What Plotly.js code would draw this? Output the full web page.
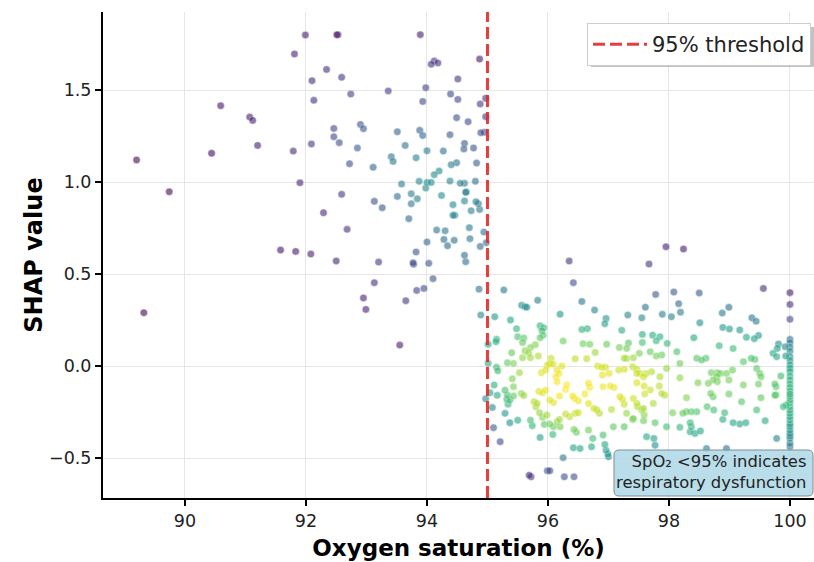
<!DOCTYPE html>
<html>
<head>
<meta charset="utf-8">
<script src="https://cdn.plot.ly/plotly-3.0.1.min.js"></script>
<style>html,body{margin:0;padding:0;background:#fff;}#chart{width:814px;height:562px;}</style>
</head>
<body>
<div id="chart"></div>
<script>
// Oxygen saturation (%) of each sample
const spo2 = [
  91.81, 90.59, 91.07, 91.12, 91.20, 90.44, 91.79, 89.20, 89.74, 91.90, 91.58, 91.83, 89.32,
  91.99, 92.51, 92.53, 93.89, 92.34, 92.10, 92.59, 92.74, 92.13, 93.36, 94.07, 94.12, 94.18,
  93.98, 93.93, 94.51, 94.87, 94.39, 94.51, 94.88, 94.97, 94.49, 94.68, 94.97, 94.89, 94.95,
  94.38, 92.46, 92.46, 92.55, 92.09, 92.90, 92.95, 92.85, 92.72, 93.11, 93.51, 93.64, 93.88,
  93.93, 93.41, 93.44, 93.82, 94.00, 94.27, 94.62, 94.61, 94.77, 94.82, 94.40, 94.49, 94.12,
  94.20, 93.58, 93.87, 94.00, 94.07, 94.38, 94.55, 94.62, 94.80, 93.98, 92.59, 93.13, 93.26,
  92.29, 93.51, 93.74, 93.84, 93.74, 93.70, 94.24, 94.43, 94.43, 94.46, 94.64, 94.65, 94.62,
  94.81, 94.85, 94.73, 94.87, 92.68, 94.16, 94.30, 94.70, 94.94, 94.00, 94.28, 94.34, 94.45,
  94.71, 94.88, 94.98, 92.08, 92.50, 93.20, 93.82, 93.77, 93.78, 94.03, 94.62, 94.64, 94.10,
  93.13, 93.95, 93.83, 92.95, 92.99, 93.65, 94.86, 94.89, 93.55, 94.97,
  95.12, 95.01, 95.15, 95.14, 95.01, 95.15, 95.17, 95.11, 95.04, 95.16, 95.08, 95.10, 95.21,
  96.35, 97.67, 96.42, 95.27, 95.83, 95.565, 95.62, 95.65, 96.56, 96.77, 96.20, 96.96, 96.94,
  97.32, 97.61, 95.38, 95.87, 95.93, 95.90, 95.48, 96.56, 96.65, 97.22, 97.56, 95.50, 95.60,
  95.58, 95.92, 95.87, 96.25, 96.58, 96.69, 96.97, 97.18, 97.33, 97.30, 97.56, 95.71, 95.79,
  95.62, 95.68, 95.40, 95.58, 95.71, 95.84, 96.78, 96.45, 96.64, 97.26, 97.30, 97.41, 97.51,
  96.05, 96.03, 96.08, 95.99, 96.23, 95.33, 95.43, 95.53, 95.41, 96.15, 96.18, 96.13, 95.89,
  95.96, 96.82, 96.89, 96.95, 97.01, 96.90, 97.17, 97.26, 97.40, 97.47, 97.47, 97.52, 97.47,
  97.59, 97.58, 96.15, 96.31, 96.29, 96.67, 96.69, 96.61, 96.91, 97.03, 97.09, 95.29, 95.33,
  95.32, 95.37, 95.34, 95.43, 95.43, 95.56, 95.60, 95.85, 95.91, 95.96, 96.19, 96.03, 96.09,
  95.77, 95.82, 95.80, 96.41, 96.44, 96.50, 96.67, 96.81, 96.85, 96.76, 97.05, 97.19, 97.23,
  97.26, 97.41, 97.48, 97.55, 97.58, 97.30, 97.41, 95.86, 95.91, 95.98, 95.29, 95.37, 95.50,
  95.71, 95.74, 95.94, 96.03, 96.15, 96.19, 96.29, 96.36, 96.45, 96.50, 96.09, 96.20, 96.47,
  96.43, 96.67, 96.74, 96.91, 97.08, 97.26, 97.40, 97.63, 95.87, 96.08, 96.42, 96.53, 96.72,
  96.94, 96.96, 96.99, 97.00, 96.25, 95.69, 95.72, 95.99, 96.03, 96.27, 96.43,
  97.95, 98.24, 99.56, 100.0, 100.0, 100.0, 97.78, 98.08, 98.50, 98.16, 97.89, 98.04, 98.19,
  98.88, 98.99, 99.37, 99.44, 98.51, 97.55, 98.89, 99.00, 99.17, 99.28, 99.41, 99.48, 97.73,
  97.85, 98.41, 97.79, 97.97, 98.83, 99.06, 99.81, 99.79, 99.92, 99.72, 99.78, 99.93, 97.69,
  98.13, 97.79, 97.88, 98.46, 98.54, 98.61, 99.23, 99.36, 99.42, 98.18, 97.96, 97.62, 97.71,
  97.85, 98.70, 98.80, 98.85, 98.79, 98.95, 99.05, 99.45, 99.50, 99.52, 98.18, 98.65, 98.73,
  98.80, 98.48, 98.99, 99.23, 99.75, 99.85, 99.48, 97.69, 97.84, 97.60, 97.88, 97.93, 98.69,
  98.73, 98.99, 97.47, 99.52, 99.75, 98.29, 99.20, 97.59, 97.74, 98.63, 98.74, 98.06, 98.23,
  98.29, 98.37, 98.46, 98.92, 99.45, 99.94, 97.58, 97.77, 97.96, 98.18, 98.35, 98.37, 98.35,
  98.43, 98.52, 98.89, 99.06, 99.17, 99.27, 99.59, 97.75, 97.77, 99.78, 98.62, 98.95, 99.89,
  99.77, 99.77,
  100.0, 100.0, 100.0, 100.0, 100.0, 100.0, 100.0, 100.0, 100.0, 100.0, 100.0, 100.0, 100.0,
  100.0, 100.0, 100.0, 100.0, 100.0, 100.0, 100.0, 100.0, 100.0, 100.0, 100.0, 100.0, 100.0,
  100.0, 100.0, 100.0, 100.0, 100.0
];
// SHAP value of each sample (same order as spo2)
const shap = [
  1.696, 1.415, 1.353, 1.335, 1.199, 1.156, 1.168, 1.120, 0.947, 0.996, 0.630, 0.623, 0.290,
  1.799, 1.800, 1.800, 1.801, 1.612, 1.551, 1.569, 1.478, 1.444, 1.495, 1.640, 1.658, 1.647,
  1.513, 1.438, 1.560, 1.668, 1.478, 1.449, 1.424, 1.455, 1.350, 1.328, 1.355, 1.268, 1.270,
  1.257, 1.291, 1.246, 1.214, 1.207, 1.313, 1.290, 1.185, 1.099, 1.080, 1.273, 1.199, 1.281,
  1.253, 1.138, 1.112, 1.132, 1.170, 1.168, 1.210, 1.179, 1.185, 1.103, 1.094, 1.105, 1.040,
  1.060, 0.989, 1.004, 0.998, 0.998, 1.005, 0.993, 0.993, 1.004, 0.967, 0.933, 0.895, 0.860,
  0.833, 0.922, 0.936, 0.909, 0.882, 0.801, 0.927, 0.877, 0.819, 0.819, 0.944, 0.946, 0.897,
  0.893, 0.882, 0.844, 0.851, 0.743, 0.739, 0.735, 0.752, 0.728, 0.674, 0.688, 0.654, 0.683,
  0.692, 0.650, 0.670, 0.609, 0.571, 0.565, 0.620, 0.561, 0.553, 0.558, 0.602, 0.567, 0.475,
  0.453, 0.422, 0.411, 0.370, 0.308, 0.355, 0.418, 0.277, 0.114, -0.178,
  0.268, 0.118, 0.145, 0.132, 0.015, -0.007, -0.026, -0.103, -0.145, -0.159, -0.225, -0.335, -0.411,
  0.571, 0.554, 0.453, 0.413, 0.357, 0.330, 0.322, 0.320, 0.351, 0.304, 0.282, 0.259, 0.230,
  0.277, 0.320, 0.250, 0.219, 0.208, 0.192, 0.203, 0.199, 0.203, 0.194, 0.172, 0.159, 0.152,
  0.128, 0.168, 0.154, 0.136, 0.121, 0.118, 0.119, 0.101, 0.125, 0.096, 0.128, 0.101, 0.116,
  0.083, 0.072, 0.072, 0.045, 0.045, 0.054, 0.074, 0.040, 0.040, 0.043, 0.041, 0.045, 0.069,
  0.042, 0.014, 0.011, 0.005, 0.000, 0.018, 0.014, -0.036, -0.069, -0.022, -0.040, -0.058, -0.036,
  -0.022, 0.000, -0.007, -0.007, -0.040, -0.049, -0.022, -0.018, -0.004, -0.018, -0.040, -0.040, -0.091,
  -0.109, -0.058, -0.085, -0.103, -0.127, -0.094, -0.116, -0.152, -0.112, -0.109, -0.116, -0.131, -0.158,
  -0.181, -0.185, -0.207, -0.112, -0.163, -0.149, -0.160, -0.138, -0.145, -0.131, -0.163, -0.185, -0.198,
  -0.194, -0.203, -0.221, -0.163, -0.176, -0.189, -0.203, -0.239, -0.257, -0.230, -0.236, -0.167, -0.181,
  -0.207, -0.176, -0.221, -0.239, -0.230, -0.257, -0.285, -0.254, -0.279, -0.266, -0.257, -0.308, -0.294,
  -0.294, -0.324, -0.317, -0.315, -0.303, -0.290, -0.261, -0.275, -0.257, -0.254, -0.330, -0.330, -0.360,
  -0.345, -0.348, -0.393, -0.375, -0.330, -0.330, -0.290, -0.384, -0.388, -0.372, -0.444, -0.448, -0.439,
  -0.426, -0.457, -0.478, -0.493, -0.498, -0.593, -0.602, -0.569, -0.569, -0.602, -0.602,
  0.648, 0.636, 0.422, 0.399, 0.335, 0.254, 0.389, 0.402, 0.397, 0.339, 0.281, 0.268, 0.293,
  0.288, 0.319, 0.262, 0.244, 0.235, 0.262, 0.210, 0.201, 0.196, 0.156, 0.149, 0.166, 0.168,
  0.159, 0.154, 0.137, 0.123, 0.110, 0.095, 0.120, 0.095, 0.105, 0.069, 0.051, 0.054, 0.078,
  0.078, 0.054, 0.060, 0.042, 0.033, 0.042, 0.024, 0.042, 0.036, 0.014, -0.013, -0.041, -0.031,
  -0.058, -0.036, -0.036, -0.040, -0.058, -0.040, -0.022, -0.013, -0.040, -0.058, -0.064, -0.094, -0.076,
  -0.085, -0.091, -0.076, -0.103, -0.098, -0.054, -0.098, -0.130, -0.109, -0.152, -0.149, -0.158, -0.149,
  -0.167, -0.152, -0.203, -0.172, -0.158, -0.172, -0.194, -0.266, -0.203, -0.221, -0.239, -0.254, -0.257,
  -0.248, -0.248, -0.248, -0.254, -0.239, -0.212, -0.297, -0.308, -0.330, -0.333, -0.308, -0.330, -0.357,
  -0.366, -0.353, -0.290, -0.308, -0.315, -0.308, -0.297, -0.393, -0.430, -0.393, -0.448, -0.448, -0.221,
  -0.112, -0.157,
  0.145, 0.127, 0.102, 0.080, 0.051, 0.030, 0.006, -0.012, -0.030, -0.054, -0.076, -0.098, -0.116,
  -0.135, -0.152, -0.166, -0.185, -0.200, -0.221, -0.240, -0.257, -0.275, -0.293, -0.315, -0.329, -0.348,
  -0.366, -0.380, -0.393, -0.420, -0.438
];
const thresholdValue = 95;
const xTickVals = [90, 92, 94, 96, 98, 100];
const yTickVals = [-0.5, 0.0, 0.5, 1.0, 1.5];
const yTickText = ['\u22120.5', '0.0', '0.5', '1.0', '1.5'];

// point density (gaussian KDE, Scott's rule, full covariance) used for colour
function gaussianKde(xs, ys) {
  const n = xs.length;
  let mx = 0, my = 0;
  for (let i = 0; i < n; i++) { mx += xs[i]; my += ys[i]; }
  mx /= n; my /= n;
  let sxx = 0, syy = 0, sxy = 0;
  for (let i = 0; i < n; i++) {
    const dx = xs[i] - mx, dy = ys[i] - my;
    sxx += dx * dx; syy += dy * dy; sxy += dx * dy;
  }
  sxx /= (n - 1); syy /= (n - 1); sxy /= (n - 1);
  const f2 = Math.pow(n, -1 / 3);
  const a = sxx * f2, b = sxy * f2, d = syy * f2;
  const det = a * d - b * b;
  const ia = d / det, ib = -b / det, id = a / det;
  const out = [];
  for (let i = 0; i < n; i++) {
    let s = 0;
    for (let j = 0; j < n; j++) {
      const dx = xs[i] - xs[j], dy = ys[i] - ys[j];
      s += Math.exp(-0.5 * (ia * dx * dx + 2 * ib * dx * dy + id * dy * dy));
    }
    out.push(s / (n * 2 * Math.PI * Math.sqrt(det)));
  }
  return out;
}
const dens = gaussianKde(spo2, shap);
const order = dens.map((v, i) => i).sort((p, q) => dens[p] - dens[q]);
const xs = order.map(i => spo2[i]);
const ys = order.map(i => shap[i]);
const cs = order.map(i => dens[i]);

const W = 814, H = 562, ML = 103, MR = 0, MT = 12, MB = 64;
const PW = W - ML - MR, PH = H - MT - MB;
const px = v => (v - ML) / PW;          // pixel -> paper x
const py = v => (H - MB - v) / PH;      // pixel -> paper y

function roundRect(x0, y0, x1, y1, r) {
  const X0 = px(x0), X1 = px(x1), Y0 = py(y1), Y1 = py(y0);
  const rx = r / PW, ry = r / PH;
  return `M${X0 + rx},${Y0} L${X1 - rx},${Y0} Q${X1},${Y0} ${X1},${Y0 + ry} L${X1},${Y1 - ry} Q${X1},${Y1} ${X1 - rx},${Y1} L${X0 + rx},${Y1} Q${X0},${Y1} ${X0},${Y1 - ry} L${X0},${Y0 + ry} Q${X0},${Y0} ${X0 + rx},${Y0} Z`;
}

const font = 'DejaVu Sans, sans-serif';
const trace = {
  type: 'scatter', mode: 'markers', x: xs, y: ys, showlegend: false, hoverinfo: 'skip',
  marker: { size: 7.5, color: cs, colorscale: 'Viridis', opacity: 0.6,
            line: { color: 'white', width: 0.5 } }
};

const layout = {
  width: W, height: H,
  margin: { l: ML, r: MR, t: MT, b: MB },
  paper_bgcolor: 'white', plot_bgcolor: 'white',
  font: { family: font, color: '#222' },
  xaxis: {
    range: [88.645, 100.397], tickvals: xTickVals, ticktext: xTickVals.map(String),
    showgrid: true, gridcolor: '#e6e6e6', gridwidth: 1, zeroline: false,
    showline: true, linecolor: 'black', linewidth: 2,
    ticks: 'outside', ticklen: 6, tickwidth: 1.5, tickcolor: 'black',
    tickfont: { family: font, size: 17.5, color: '#222' },
    title: { text: 'Oxygen saturation (%)', font: { family: font, size: 23, color: 'black', weight: 'bold' }, standoff: 10 }
  },
  yaxis: {
    range: [-0.717, 1.924], tickvals: yTickVals, ticktext: yTickText,
    showgrid: true, gridcolor: '#e6e6e6', gridwidth: 1, zeroline: false,
    showline: true, linecolor: 'black', linewidth: 2,
    ticks: 'outside', ticklen: 6, tickwidth: 1.5, tickcolor: 'black',
    tickfont: { family: font, size: 17.5, color: '#222' },
    title: { text: 'SHAP value', font: { family: font, size: 24, color: 'black', weight: 'bold' }, standoff: 0 }
  },
  legend: {
    x: px(811), xanchor: 'right', y: py(23), yanchor: 'top',
    bgcolor: 'white', bordercolor: '#cccccc', borderwidth: 1,
    itemwidth: 54,
    font: { family: font, size: 21, color: '#222' }
  },
  shapes: [
    { type: 'rect', xref: 'paper', yref: 'paper', layer: 'above',
      x0: px(591), x1: px(815), y0: py(67), y1: py(27),
      fillcolor: 'rgba(120,120,120,0.45)', line: { width: 0 } },
    { type: 'line', xref: 'x', yref: 'paper', x0: thresholdValue, x1: thresholdValue, y0: 0, y1: 1,
      layer: 'above', line: { color: 'rgba(230,40,40,0.9)', width: 3, dash: '12px,5px' },
      showlegend: true, name: '95% threshold' },
    { type: 'path', xref: 'paper', yref: 'paper', layer: 'above',
      path: roundRect(614, 450, 813, 496, 5),
      fillcolor: 'rgba(173,216,230,0.85)', line: { color: '#7a8f99', width: 1 } }
  ],
  annotations: [
    { xref: 'paper', yref: 'paper', x: px(808), y: py(472), xanchor: 'right', yanchor: 'middle',
      align: 'right', showarrow: false,
      text: 'SpO\u2082 &lt;95% indicates<br>respiratory dysfunction',
      font: { family: font, size: 16.4, color: '#222' } }
  ]
};

Plotly.newPlot('chart', [trace], layout, { displayModeBar: false, staticPlot: true });
</script>
</body>
</html>
